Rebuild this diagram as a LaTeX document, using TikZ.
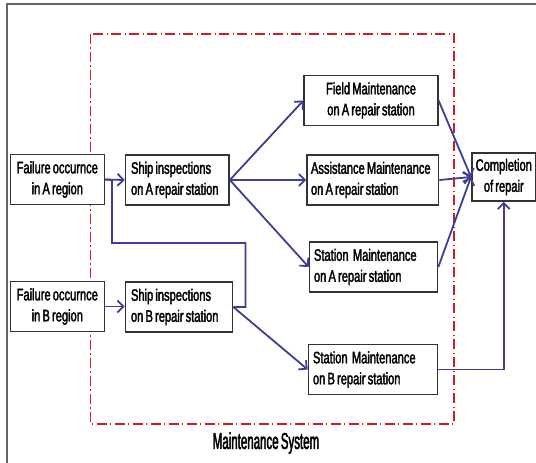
\documentclass[tikz,border=0pt]{standalone}
\usepackage{fontspec}
\setmainfont{Liberation Sans}[FakeStretch=0.67,FakeBold=2,WordSpace=0.7]
\newfontfamily\sysfont{Liberation Sans}[FakeStretch=0.5,FakeBold=2,WordSpace=0.7]
\usetikzlibrary{arrows.meta, calc}
\definecolor{flowblue}{RGB}{62,62,150}
\definecolor{sysred}{RGB}{205,30,40}
\hyphenpenalty=10000

\tikzset{
  blk/.style={draw=black!80, line width=0.8pt, fill=white, inner sep=0pt,
    minimum height=25pt, font=\fontsize{8.3}{10.5}\selectfont},
  blkc/.style={blk, align=center},
  blkl/.style={blk, align=flush left},
  flow/.style={draw=flowblue, line width=0.9pt},
  flowto/.style={flow, -{Straight Barb[length=3pt,width=6pt]}}
}

\begin{document}
\begin{tikzpicture}[x=0.5pt,y=-0.5pt]
  \useasboundingbox (0,0) rectangle (536,462);
  % frame of the figure
  \draw[black!60, line width=0.8pt] (6.8,470) -- (6.8,4) -- (545,4);

  % Maintenance System (dash-dot boundary)
  \draw[sysred, line width=0.75pt, dash pattern=on 5pt off 1.6pt on 0.8pt off 1.6pt]
    (90.6,34) rectangle (454,424);
  \node (sys) at (266,443) {\sysfont\fontsize{11.5}{12}\selectfont Maintenance System};

  % failures
  \node[blkc, minimum width=47pt] (failA) at (57.3,179.5) {Failure occurnce\\in A region};
  \node[blkc, minimum width=47pt] (failB) at (57.3,306.5) {Failure occurnce\\in B region};

  % ship inspections
  \node[blkl, minimum width=51.75pt, text width=46.25pt] (shipA) at (177.3,180)
    {Ship inspections\\on A repair station};
  \node[blkl, minimum width=53.5pt, text width=48pt] (shipB) at (179,307)
    {Ship inspections\\on B repair station};

  % maintenance
  \node[blkc, minimum width=66.8pt] (field) at (371,100.5) {Field Maintenance\\on A repair station};
  \node[blkl, minimum width=65.8pt, text width=61.8pt] (assist) at (372.8,180)
    {Assistance Maintenance\\on A repair station};
  \node[blkl, minimum width=64pt, text width=59.5pt] (stA) at (373.5,267)
    {Station\ \ Maintenance\\on A repair station};
  \node[blkl, minimum width=64.5pt, text width=60pt] (stB) at (373,369.5)
    {Station\ \ Maintenance\\on B repair station};

  % completion
  \node[blkc, minimum width=32pt, minimum height=24pt] (compl) at (503.8,177)
    {Completion\\of repair};

  % connectors
  \coordinate (jA) at (112,180);
  \coordinate (jB) at (245.5,243);
  \draw[flowto] (failA.east) -- (shipA.west);
  \draw[flowto] (failB.east) -- (failB.east -| shipB.west);
  \draw[flow] (failA.east) -- (jA) |- (jB) |- (shipB.east);

  \draw[flowto] (shipA.east) -- (field.west);
  \draw[flowto] (shipA.east) -- (assist.west);
  \draw[flowto] (shipA.east) -- (stA.west);
  \draw[flowto] (shipB.east) -- (stB.west);

  \draw[flowto] (field.east) -- (compl.west);
  \draw[flowto] (assist.east) -- (compl.west);
  \draw[flowto] (stA.east) -- (compl.west);
  \draw[flowto] (stB.east) -| (compl.south);
\end{tikzpicture}
\end{document}
